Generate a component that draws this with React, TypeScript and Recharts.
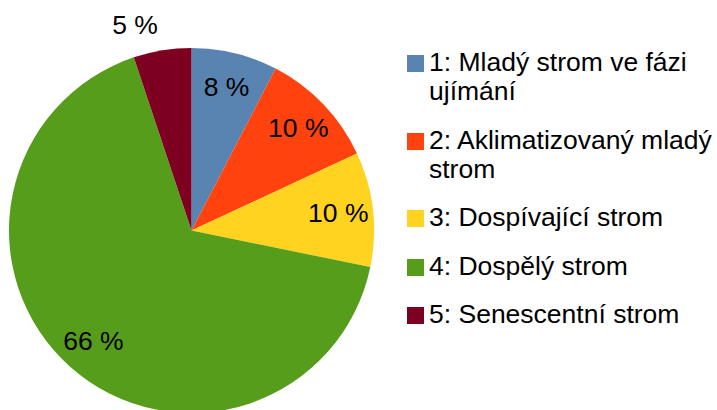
import { PieChart, Pie, Cell, Legend } from "recharts";

const categories = [
  "1: Mladý strom ve fázi ujímání",
  "2: Aklimatizovaný mladý strom",
  "3: Dospívající strom",
  "4: Dospělý strom",
  "5: Senescentní strom",
];
const shares = [7.6, 10.4, 10.1, 66.4, 5.1];
const colors = ["#5983b0", "#ff420e", "#ffd320", "#579d1c", "#7e0021"];

const data = categories.map((name, i) => ({ name, value: shares[i] }));

const FONT = '"Liberation Sans", Arial, sans-serif';
const RAD = Math.PI / 180;

const renderLabel = (props: any) => {
  const { cx, cy, midAngle, outerRadius, percent, value } = props;
  const text = `${Math.round(value)} %`;
  if (percent < 0.06) {
    // small slice: label sits outside
    const r = outerRadius + 15;
    const x = cx + r * Math.cos(-midAngle * RAD);
    const y = cy + r * Math.sin(-midAngle * RAD);
    return (
      <text x={x - 2} y={y - 2} textAnchor="end" fontSize={26.5} fill="#000" fontFamily={FONT}>
        {text}
      </text>
    );
  }
  const r = outerRadius * 0.81;
  const x = cx + r * Math.cos(-midAngle * RAD);
  const y = cy + r * Math.sin(-midAngle * RAD);
  return (
    <text x={x} y={y} textAnchor="middle" dominantBaseline="central" fontSize={26.5} fill="#000" fontFamily={FONT}>
      {text}
    </text>
  );
};

const renderLegend = () => (
  <div style={{ fontFamily: FONT, fontSize: 26.5, color: "#000" }}>
    {categories.map((name, i) => (
      <div key={name} style={{ display: "flex", alignItems: "flex-start", marginBottom: 19.5 }}>
        <span
          style={{
            display: "inline-block",
            width: 17,
            height: 17,
            marginTop: 7,
            marginRight: 5,
            background: colors[i],
            flex: "none",
          }}
        />
        <span style={{ width: 296, flex: "none", lineHeight: "29px" }}>{name}</span>
      </div>
    ))}
  </div>
);

export default function App() {
  return (
    <div style={{ position: "absolute", left: 0, top: 0, width: 717, height: 410, background: "#fff", overflow: "hidden" }}>
      <PieChart width={717} height={410} margin={{ top: 0, right: 0, bottom: 0, left: 0 }}>
        <Pie
          data={data}
          dataKey="value"
          nameKey="name"
          cx={191.5}
          cy={230.5}
          outerRadius={182.5}
          startAngle={90}
          endAngle={-270}
          stroke="none"
          label={renderLabel}
          labelLine={false}
          isAnimationActive={false}
        >
          {data.map((entry, index) => (
            <Cell key={`cell-${index}`} fill={colors[index]} />
          ))}
        </Pie>
        <Legend
          layout="vertical"
          verticalAlign="top"
          align="right"
          content={renderLegend}
          wrapperStyle={{ left: 407, top: 48, width: 330 }}
        />
      </PieChart>
    </div>
  );
}
